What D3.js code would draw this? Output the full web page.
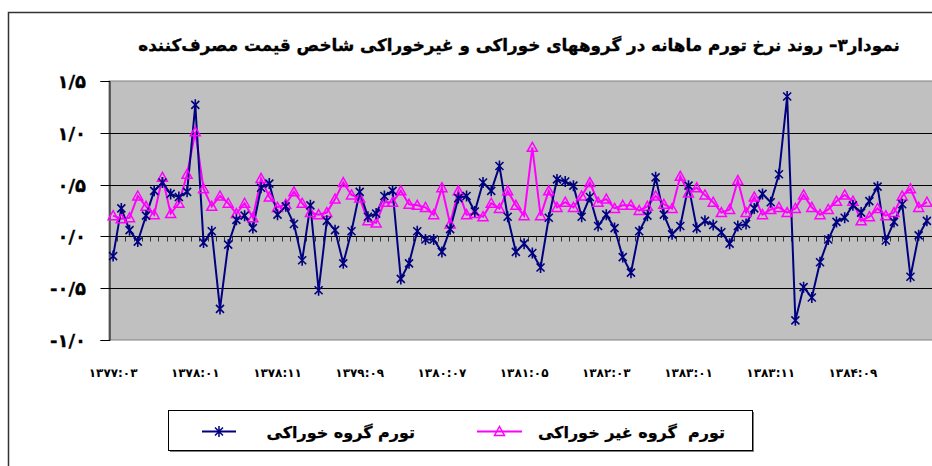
<!DOCTYPE html>
<html>
<head>
<meta charset="utf-8">
<script src="https://cdn.jsdelivr.net/npm/d3@7"></script>
<style>
  html, body { margin: 0; padding: 0; background: #fff; }
  svg { display: block; }
  text { font-family: "DejaVu Sans", sans-serif; }
</style>
</head>
<body>
<svg id="chart" width="932" height="466"></svg>
<script>
// ---------------- DATA ----------------
const titleText = "نمودار۳– روند نرخ تورم ماهانه در گروههای خوراکی و غیرخوراکی شاخص قیمت مصرف‌کننده";
const seriesNames = ["تورم گروه خوراکی", "تورم  گروه غیر خوراکی"];

// monthly categories, 1377:03 onward (100 months)
const startYear = 1377, startMonth = 3, nMonths = 100;
const categories = [];
for (let k = 0; k < nMonths; k++) {
  const m = startMonth - 1 + k;
  categories.push((startYear + Math.floor(m / 12)) + ":" + String(m % 12 + 1).padStart(2, "0"));
}

// Food group monthly inflation (%)
const food = [
  -0.19, 0.27, 0.06, -0.05, 0.20, 0.44, 0.52, 0.41, 0.38, 0.43,
   1.27, -0.06, 0.05, -0.70, -0.08, 0.16, 0.20, 0.08, 0.47, 0.51,
   0.21, 0.29, 0.12, -0.23, 0.30, -0.52, 0.15, 0.06, -0.26, 0.05,
   0.43, 0.19, 0.22, 0.39, 0.44, -0.41, -0.26, 0.05, -0.03, -0.03,
  -0.15, 0.07, 0.37, 0.39, 0.24, 0.52, 0.44, 0.68, 0.19, -0.15,
  -0.07, -0.16, -0.30, 0.18, 0.55, 0.53, 0.49, 0.19, 0.38, 0.10,
   0.21, 0.08, -0.20, -0.35, 0.05, 0.20, 0.57, 0.21, 0.02, 0.10,
   0.49, 0.08, 0.15, 0.11, 0.04, -0.07, 0.10, 0.12, 0.27, 0.41,
   0.33, 0.60, 1.35, -0.81, -0.49, -0.59, -0.25, -0.03, 0.14, 0.18,
   0.30, 0.23, 0.34, 0.48, -0.04, 0.14, 0.31, -0.39, 0.01, 0.15
];

// Non-food group monthly inflation (%)
const nonFood = [
  0.20, 0.17, 0.18, 0.39, 0.29, 0.21, 0.57, 0.22, 0.32, 0.60,
  1.01, 0.46, 0.29, 0.39, 0.32, 0.22, 0.32, 0.18, 0.56, 0.38,
  0.28, 0.31, 0.43, 0.32, 0.23, 0.21, 0.23, 0.36, 0.52, 0.40,
  0.37, 0.15, 0.13, 0.33, 0.33, 0.44, 0.31, 0.30, 0.28, 0.21,
  0.47, 0.12, 0.44, 0.21, 0.22, 0.19, 0.32, 0.27, 0.44, 0.30,
  0.20, 0.86, 0.20, 0.44, 0.28, 0.33, 0.28, 0.39, 0.52, 0.33,
  0.36, 0.27, 0.30, 0.30, 0.25, 0.29, 0.39, 0.31, 0.27, 0.58,
  0.42, 0.47, 0.40, 0.33, 0.23, 0.26, 0.54, 0.23, 0.38, 0.21,
  0.26, 0.28, 0.23, 0.27, 0.40, 0.28, 0.21, 0.26, 0.34, 0.40,
  0.34, 0.15, 0.19, 0.27, 0.20, 0.23, 0.39, 0.46, 0.28, 0.33
];

// tick labels
const xTickCats = ["1377:03","1378:01","1378:11","1379:09","1380:07","1381:05","1382:03","1383:01","1383:11","1384:09"];
const yTicks = [-1.0, -0.5, 0.0, 0.5, 1.0, 1.5];
const yTickLabels = ["-۱/۰", "-۰/۵", "۰/۰", "۰/۵", "۱/۰", "۱/۵"];

// ---------------- HELPERS ----------------
const faDigits = "۰۱۲۳۴۵۶۷۸۹";
const toFa = s => String(s).replace(/[0-9]/g, d => faDigits[+d]);

// ---------------- LAYOUT ----------------
const svg = d3.select("#chart");
const plot = { left: 109, right: 931, top: 81, bottom: 340 };
const foodColor = "#000080", nonFoodColor = "#FF00FF";

const x = d3.scaleBand().domain(categories).range([plot.left, plot.right]).paddingInner(0).paddingOuter(0);
const xc = c => x(c) + x.bandwidth() / 2;
const y = d3.scaleLinear().domain([-1, 1.5]).range([plot.bottom, plot.top]);

// chart outer border (cropped on right/bottom)
svg.append("rect").attr("x", 8.5).attr("y", 12.5).attr("width", 1000).attr("height", 600)
  .attr("fill", "#fff").attr("stroke", "#333").attr("stroke-width", 1.5);

// title
const title = svg.append("text").attr("x", 519).attr("y", 51)
  .attr("text-anchor", "middle").attr("direction", "rtl")
  .attr("font-weight", "bold").attr("font-size", 20).attr("fill", "#000")
  .attr("stroke", "#000").attr("stroke-width", 0.35)
  .text(titleText);
function fitWidth(sel, target) {
  const w = sel.node().getComputedTextLength();
  const fs = +sel.attr("font-size");
  sel.attr("font-size", (fs * target / w).toFixed(2));
}
fitWidth(title, 762);

// plot area background
svg.append("rect").attr("x", plot.left).attr("y", plot.top)
  .attr("width", 940 - plot.left).attr("height", plot.bottom - plot.top)
  .attr("fill", "#C0C0C0").attr("stroke", "#808080").attr("stroke-width", 1);

// gridlines
svg.append("g").selectAll("line").data(yTicks.filter(v => v !== -1 && v !== 1.5 && v !== 0)).join("line")
  .attr("x1", plot.left).attr("x2", 940)
  .attr("y1", d => Math.round(y(d)) + 0.5).attr("y2", d => Math.round(y(d)) + 0.5)
  .attr("stroke", "#000").attr("stroke-width", 1);

// y axis
const yAxis = d3.axisLeft(y).tickValues(yTicks).tickSize(9).tickFormat("");
const gy = svg.append("g").attr("transform", `translate(${plot.left + 0.5},0)`).call(yAxis);
gy.select(".domain").attr("stroke", "#000");
gy.selectAll(".tick line").attr("stroke", "#000");
gy.selectAll(".tick").attr("transform", d => `translate(0,${Math.round(y(d)) + 0.5})`);

svg.append("g").selectAll("text").data(yTicks).join("text")
  .attr("x", 86).attr("y", d => y(d) + 7)
  .attr("text-anchor", "end").attr("font-weight", "bold").attr("font-size", 18)
  .attr("fill", "#000").attr("stroke", "#000").attr("stroke-width", 0.3)
  .text((d, i) => yTickLabels[i]);

// category axis at zero with tick marks between categories
const y0 = Math.round(y(0)) + 0.5;
svg.append("line").attr("x1", plot.left).attr("x2", 940).attr("y1", y0).attr("y2", y0)
  .attr("stroke", "#000").attr("stroke-width", 1);
svg.append("g").selectAll("line").data(categories.slice(1)).join("line")
  .attr("x1", d => Math.round(x(d)) + 0.5).attr("x2", d => Math.round(x(d)) + 0.5)
  .attr("y1", y0).attr("y2", y0 + 5)
  .attr("stroke", "#333").attr("stroke-width", 1);

// x tick labels (low position)
svg.append("g").selectAll("text").data(xTickCats).join("text")
  .attr("x", d => xc(d)).attr("y", 377)
  .attr("text-anchor", "middle").attr("font-weight", "bold").attr("font-size", 12)
  .attr("fill", "#000")
  .text(d => toFa(d));

// series
const line = d3.line().x((d, i) => xc(categories[i])).y(d => y(d));
svg.append("path").datum(nonFood).attr("d", line)
  .attr("fill", "none").attr("stroke", nonFoodColor).attr("stroke-width", 2);
svg.append("path").datum(food).attr("d", line)
  .attr("fill", "none").attr("stroke", foodColor).attr("stroke-width", 2);

const starPath = "M-4,-4L4,4M-4,4L4,-4M0,-5.5L0,5.5";
const triPath = "M0,-5L5,4L-5,4Z";

svg.append("g").selectAll("path").data(nonFood).join("path")
  .attr("transform", (d, i) => `translate(${xc(categories[i])},${y(d)})`)
  .attr("d", triPath).attr("fill", "none").attr("stroke", nonFoodColor).attr("stroke-width", 1.5);
svg.append("g").selectAll("path").data(food).join("path")
  .attr("transform", (d, i) => `translate(${xc(categories[i])},${y(d)})`)
  .attr("d", starPath).attr("fill", "none").attr("stroke", foodColor).attr("stroke-width", 1.6);

// legend
const lg = svg.append("g");
lg.append("rect").attr("x", 170).attr("y", 412).attr("width", 584).attr("height", 40).attr("fill", "#808080");
lg.append("rect").attr("x", 168.5).attr("y", 410.5).attr("width", 584).attr("height", 40)
  .attr("fill", "#fff").attr("stroke", "#000").attr("stroke-width", 1);

const legendItems = [
  { name: seriesNames[0], color: foodColor, marker: starPath, fill: "none", lx1: 202, lx2: 236, tx: 415 },
  { name: seriesNames[1], color: nonFoodColor, marker: triPath, fill: "none", lx1: 477, lx2: 522, tx: 725 }
];
legendItems.forEach(it => {
  lg.append("line").attr("x1", it.lx1).attr("x2", it.lx2).attr("y1", 431.5).attr("y2", 431.5)
    .attr("stroke", it.color).attr("stroke-width", 2);
  lg.append("path").attr("transform", `translate(${(it.lx1 + it.lx2) / 2},431.5)`)
    .attr("d", it.marker).attr("fill", it.fill).attr("stroke", it.color).attr("stroke-width", 1.5);
  lg.append("text").attr("x", it.tx).attr("y", 438)
    .attr("text-anchor", "start").attr("direction", "rtl")
    .attr("font-weight", "bold").attr("font-size", 16).attr("fill", "#000")
    .attr("stroke", "#000").attr("stroke-width", 0.25)
    .style("white-space", "pre")
    .text(it.name);
});
</script>
</body>
</html>
